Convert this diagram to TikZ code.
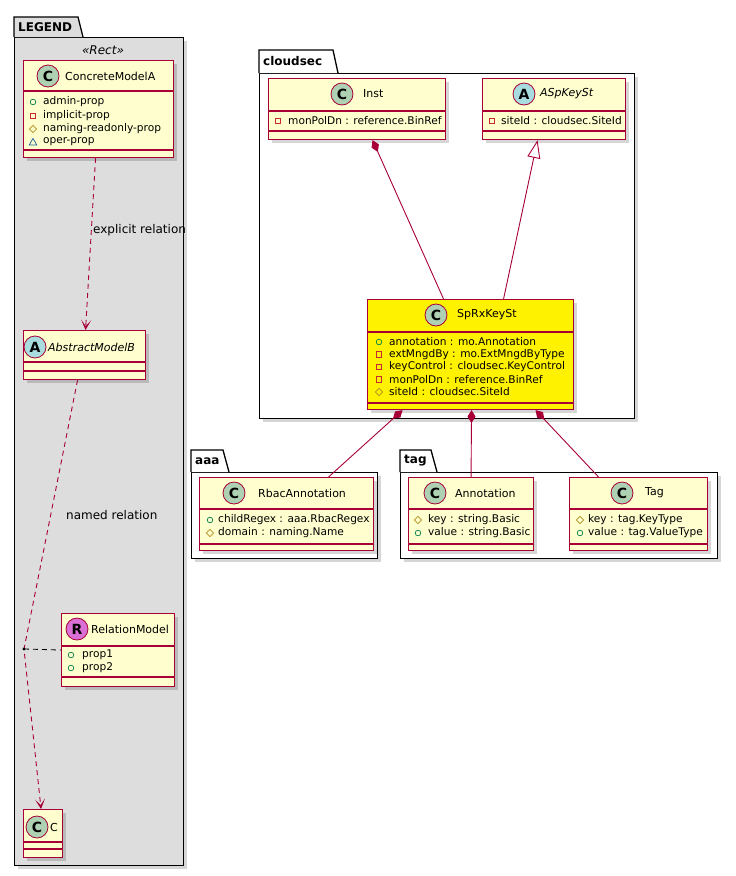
\documentclass[tikz,border=0pt]{standalone}
\usepackage{fontspec}
\setmainfont{DejaVu Sans}
\usetikzlibrary{shadows,arrows.meta}
\definecolor{umlred}{HTML}{A80036}
\definecolor{classfill}{HTML}{FEFECE}
\definecolor{legendfill}{HTML}{DDDDDD}
\definecolor{cicon}{HTML}{ADD1B2}
\definecolor{aicon}{HTML}{A9DCDF}
\definecolor{ricon}{HTML}{DA70D6}
\definecolor{pubc}{HTML}{038048}
\definecolor{privc}{HTML}{C82930}
\definecolor{protc}{HTML}{B38D22}
\definecolor{pkgc}{HTML}{1963A0}
\newcommand{\icpub}[1]{\draw[pubc, line width=0.7pt, shift={(#1)}] (0,0) circle (2.8);}
\newcommand{\icpriv}[1]{\draw[privc, line width=0.7pt, shift={(#1)}] (-2.8,-2.8) rectangle (2.8,2.8);}
\newcommand{\icprot}[1]{\draw[protc, line width=0.7pt, shift={(#1)}] (0,-3.6) -- (3.6,0) -- (0,3.6) -- (-3.6,0) -- cycle;}
\newcommand{\icpkg}[1]{\draw[pkgc, line width=0.7pt, shift={(#1)}] (0,-3.6) -- (3.8,3) -- (-3.8,3) -- cycle;}
\tikzset{
  classbox/.style={draw=umlred, line width=1.1pt, fill=classfill, anchor=north west, inner sep=0,
    drop shadow={shadow xshift=3.5pt, shadow yshift=-3.5pt, fill=black, opacity=0.16}},
  sepline/.style={draw=umlred, line width=1.1pt},
  pkgbody/.style={draw=black, line width=1.3pt, anchor=north west, inner sep=0,
    drop shadow={shadow xshift=3.5pt, shadow yshift=-3.5pt, fill=black, opacity=0.16}},
  pkgtab/.style={draw=black, line width=1.3pt},
  pkgname/.style={anchor=west, inner sep=0, font=\fontsize{12}{14}\selectfont\bfseries},
  icon/.style={circle, draw=umlred, line width=0.8pt, minimum size=22pt, inner sep=0,
    font=\fontsize{14}{14}\selectfont\bfseries},
  ctitle/.style={anchor=west, inner sep=0, font=\fontsize{11}{13}\selectfont},
  ititle/.style={anchor=west, inner sep=0, font=\fontsize{11}{13}\selectfont\itshape},
  attrtext/.style={anchor=west, inner sep=0, font=\fontsize{10.6}{12}\selectfont},
  rellabel/.style={anchor=west, inner sep=0, font=\fontsize{12}{14}\selectfont},
  dep/.style={draw=umlred, line width=0.9pt, dash pattern=on 5pt off 4pt,
    -{Stealth[length=10pt,width=10pt,inset=6pt]}},
  assocdash/.style={draw=black, line width=0.8pt, dash pattern=on 5pt off 4pt},
  comp/.style={draw=umlred, line width=0.9pt, {Diamond[length=13pt,width=8pt,fill=umlred]}-},
  inh/.style={draw=umlred, line width=0.9pt, {Triangle[length=18pt,width=13pt,fill=white]}-},
}
\begin{document}
\begin{tikzpicture}[x=1pt,y=-1pt]
\useasboundingbox (0,0) rectangle (736,876);
\fill[white] (0,0) rectangle (736,876);

% ---------- packages ----------
\node[pkgbody, fill=legendfill, minimum width=169pt, minimum height=828pt] (legend) at (14,37) {};
\draw[pkgtab, fill=legendfill] (14,37) -- (14,17) -- (78,17) -- (83,37);
\node[pkgname] (legendname) at (18,27.5) {LEGEND};
\node[anchor=center, inner sep=0, font=\fontsize{12}{14}\selectfont\itshape] (rectlbl) at (103,50) {«Rect»};

\node[pkgbody, fill=white, minimum width=375pt, minimum height=345pt] (cloudsec) at (259,73) {};
\draw[pkgtab, fill=white] (259,73) -- (259,50) -- (333,50) -- (338,73);
\node[pkgname] (cloudsecname) at (263,61.5) {cloudsec};

\node[pkgbody, fill=white, minimum width=186pt, minimum height=86pt] (aaa) at (191,472) {};
\draw[pkgtab, fill=white] (191,472) -- (191,450) -- (223,450) -- (229,472);
\node[pkgname] (aaaname) at (195,461) {aaa};

\node[pkgbody, fill=white, minimum width=317pt, minimum height=86pt] (tag) at (400,472) {};
\draw[pkgtab, fill=white] (400,472) -- (400,450) -- (431,450) -- (437,472);
\node[pkgname] (tagname) at (404,461) {tag};

% ---------- LEGEND classes ----------
\node[classbox, minimum width=150pt, minimum height=97pt] (cma) at (23,60) {};
\node[icon, fill=cicon] (cmai) at (48,76) {C};
\node[ctitle] (cmat) at (65,76) {ConcreteModelA};
\draw[sepline] (23,91) -- (173,91);
\draw[sepline] (23,150) -- (173,150);
\icpub{33,102}\node[attrtext] (cma1) at (43,102) {admin-prop};
\icpriv{33,116}\node[attrtext] (cma2) at (43,116) {implicit-prop};
\icprot{33,129}\node[attrtext] (cma3) at (43,129) {naming-readonly-prop};
\icpkg{33,142}\node[attrtext] (cma4) at (43,142) {oper-prop};

\node[classbox, minimum width=122pt, minimum height=49pt] (amb) at (23,330) {};
\node[icon, fill=aicon] (ambi) at (35,347) {A};
\node[ititle] (ambt) at (48,347) {AbstractModelB};
\draw[sepline] (23,362) -- (145,362);
\draw[sepline] (23,371) -- (145,371);

\node[classbox, minimum width=113pt, minimum height=73pt] (relm) at (61,613) {};
\node[icon, fill=ricon] (relmi) at (77,629) {R};
\node[ctitle] (relmt) at (91,629) {RelationModel};
\draw[sepline] (61,646) -- (174,646);
\draw[sepline] (61,677) -- (174,677);
\icpub{71,655}\node[attrtext] (relm1) at (82,655) {prop1};
\icpub{71,668}\node[attrtext] (relm2) at (82,668) {prop2};

\node[classbox, minimum width=39pt, minimum height=48pt] (cc) at (23,809) {};
\node[icon, fill=cicon] (cci) at (37,827) {C};
\node[ctitle] (cct) at (50,827) {C};
\draw[sepline] (23,842) -- (62,842);
\draw[sepline] (23,849) -- (62,849);

% ---------- cloudsec classes ----------
\node[classbox, minimum width=177pt, minimum height=61pt] (inst) at (268,78) {};
\node[icon, fill=cicon] (insti) at (342,94) {C};
\node[ctitle] (instt) at (363,94) {Inst};
\draw[sepline] (268,111) -- (445,111);
\draw[sepline] (268,131) -- (445,131);
\icpriv{278,121}\node[attrtext] (inst1) at (288,121) {monPolDn : reference.BinRef};

\node[classbox, minimum width=143pt, minimum height=61pt] (aspk) at (482,78) {};
\node[icon, fill=aicon] (aspki) at (524,94) {A};
\node[ititle] (aspkt) at (540,94) {ASpKeySt};
\draw[sepline] (482,111) -- (625,111);
\draw[sepline] (482,131) -- (625,131);
\icpriv{492,121}\node[attrtext] (aspk1) at (501,121) {siteId : cloudsec.SiteId};

\node[classbox, fill=yellow, minimum width=206pt, minimum height=110pt] (sprx) at (367,299) {};
\node[icon, fill=cicon] (sprxi) at (436,315) {C};
\node[ctitle] (sprxt) at (457,315) {SpRxKeySt};
\draw[sepline] (367,332) -- (573,332);
\draw[sepline] (367,403) -- (573,403);
\icpub{379,342}\node[attrtext] (sprx1) at (389,342) {annotation : mo.Annotation};
\icpriv{379,354.5}\node[attrtext] (sprx2) at (389,354.5) {extMngdBy : mo.ExtMngdByType};
\icpriv{379,367}\node[attrtext] (sprx3) at (389,367) {keyControl : cloudsec.KeyControl};
\icpriv{379,379.5}\node[attrtext] (sprx4) at (389,379.5) {monPolDn : reference.BinRef};
\icprot{379,392}\node[attrtext] (sprx5) at (389,392) {siteId : cloudsec.SiteId};

% ---------- aaa ----------
\node[classbox, minimum width=174pt, minimum height=73pt] (rbac) at (199,477) {};
\node[icon, fill=cicon] (rbaci) at (234,493) {C};
\node[ctitle] (rbact) at (258,493) {RbacAnnotation};
\draw[sepline] (199,509) -- (373,509);
\draw[sepline] (199,544) -- (373,544);
\icpub{210,520}\node[attrtext] (rbac1) at (218,520) {childRegex : aaa.RbacRegex};
\icprot{210,533}\node[attrtext] (rbac2) at (218,533) {domain : naming.Name};

% ---------- tag ----------
\node[classbox, minimum width=125pt, minimum height=73pt] (annot) at (408,477) {};
\node[icon, fill=cicon] (annoti) at (435,493) {C};
\node[ctitle] (annott) at (455,493) {Annotation};
\draw[sepline] (408,509) -- (533,509);
\draw[sepline] (408,544) -- (533,544);
\icprot{418,520}\node[attrtext] (annot1) at (428,520) {key : string.Basic};
\icpub{418,533}\node[attrtext] (annot2) at (428,533) {value : string.Basic};

\node[classbox, minimum width=138pt, minimum height=73pt] (tagc) at (569,477) {};
\node[icon, fill=cicon] (tagci) at (622,493) {C};
\node[ctitle] (tagct) at (645,493) {Tag};
\draw[sepline] (569,509) -- (707,509);
\draw[sepline] (569,544) -- (707,544);
\icprot{580,520}\node[attrtext] (tagc1) at (588,520) {key : tag.KeyType};
\icpub{580,533}\node[attrtext] (tagc2) at (588,533) {value : tag.ValueType};

% ---------- connectors ----------
\draw[dep] ([xshift=-3pt]cma.south) -- ([xshift=1pt]amb.north);
\node[rellabel] (explbl) at (93,230) {explicit relation};

\coordinate (rp) at (24,649);
\draw[dep] ([xshift=-7pt]amb.south) -- (rp) -- ([xshift=-2pt]cc.north);
\fill[black] (rp) circle (1.6);
\draw[assocdash] (rp) -- (relm.west);
\node[rellabel] (namedlbl) at (66,515) {named relation};

\draw[comp] ([xshift=15.5pt]inst.south) -- ([xshift=-27pt]sprx.north);
\draw[inh] ([xshift=-16.5pt]aspk.south) -- ([xshift=33pt]sprx.north);
\draw[comp] ([xshift=-68pt]sprx.south) -- ([xshift=42pt]rbac.north);
\draw[comp] ([xshift=1pt]sprx.south) -- ([xshift=0pt]annot.north);
\draw[comp] ([xshift=65pt]sprx.south) -- ([xshift=-40pt]tagc.north);
\end{tikzpicture}
\end{document}
